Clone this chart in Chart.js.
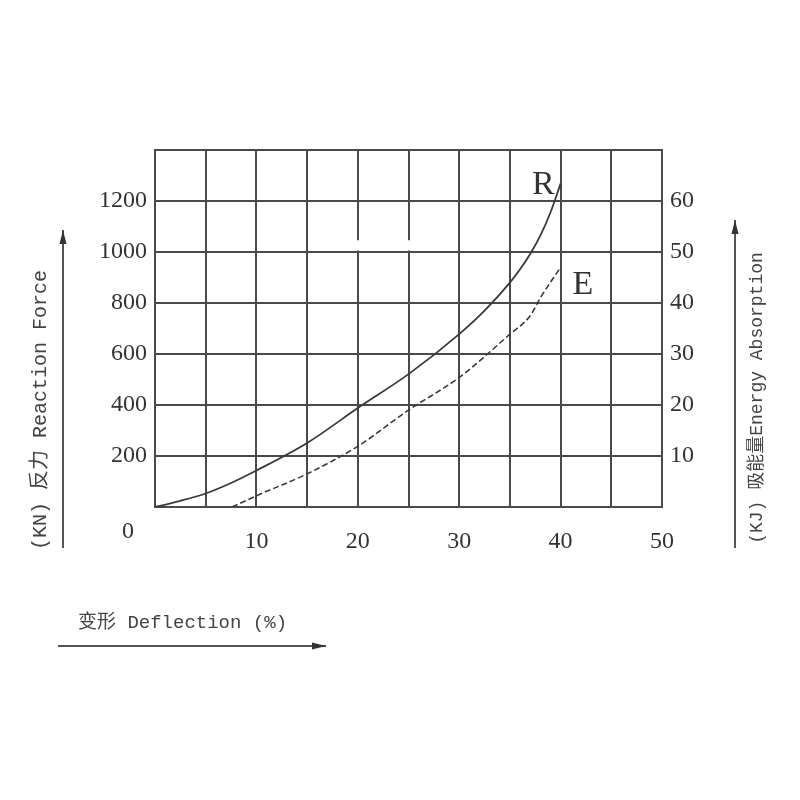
<!DOCTYPE html>
<html>
<head>
<meta charset="utf-8">
<script src="https://cdn.jsdelivr.net/npm/chart.js@4"></script>
<style>
  html, body { margin: 0; padding: 0; background: #fff; }
  #wrap { width: 800px; height: 800px; }
</style>
</head>
<body>
<div id="wrap"><canvas id="deflectionChart" width="800" height="800"></canvas></div>
<script>
// --- data ---
const rDeflection = [0, 2.5, 5, 7.5, 10, 15, 20, 25, 30, 32.5, 35, 36, 37, 38, 39, 40];
const rForce      = [0, 24, 53, 94, 143, 251, 388, 521, 678, 770, 880, 932, 992, 1064, 1155, 1268];   // kN

const eDeflection = [7.6, 10, 15, 20, 25, 30, 35, 37, 38, 40];
const eEnergy     = [0, 2.2, 6.5, 11.9, 19, 25.4, 33.9, 37.5, 41, 47];   // kJ

const forceTicks  = [200, 400, 600, 800, 1000, 1200];
const energyTicks = [10, 20, 30, 40, 50, 60];
const xTicks      = [10, 20, 30, 40, 50];

const titleLeft   = '(KN) 反力 Reaction Force';
const titleRight  = '(KJ) 吸能量Energy Absorption';
const titleBottom = '变形 Deflection (%)';

const LINE = '#4a4a4a';
const TICK_FONT = { family: 'Liberation Serif, DejaVu Serif, serif', size: 24 };
const TITLE_FAMILY = '"Liberation Mono", "Noto Sans CJK SC", monospace';

function toPoints(xs, ys) {
    return xs.map((x, i) => ({ x: x, y: ys[i] }));
}

// labels, arrows, the origin "0" and the small gaps in the grid
const decorPlugin = {
    id: 'decor',
    beforeDatasetsDraw(chart) {
        const { ctx, scales: { x, y } } = chart;
        ctx.save();
        ctx.fillStyle = '#fff';
        [20, 25].forEach(v => {
            const px = x.getPixelForValue(v);
            const top = y.getPixelForValue(1046);
            const bot = y.getPixelForValue(1000) - 1.5;
            ctx.fillRect(px - 2, top, 4, bot - top);
        });
        ctx.restore();
    },
    afterDraw(chart) {
        const { ctx, chartArea, scales: { x, y } } = chart;
        ctx.save();
        ctx.fillStyle = '#333';

        // origin zero
        ctx.font = '24px Liberation Serif, serif';
        ctx.textAlign = 'center';
        ctx.textBaseline = 'middle';
        ctx.fillText('0', chartArea.left - 27, chartArea.bottom + 25);

        // curve names
        ctx.font = '34px Liberation Serif, serif';
        ctx.fillText('R', x.getPixelForValue(38.3), y.getPixelForValue(1262));
        ctx.fillText('E', x.getPixelForValue(42.2), y.getPixelForValue(872));

        // axis titles
        ctx.fillStyle = '#444';
        ctx.font = '20px ' + TITLE_FAMILY;
        ctx.save();
        ctx.translate(41, 410);
        ctx.rotate(-Math.PI / 2);
        ctx.fillText(titleLeft, 0, 0);
        ctx.restore();

        ctx.font = '18px ' + TITLE_FAMILY;
        ctx.save();
        ctx.translate(757, 398);
        ctx.rotate(-Math.PI / 2);
        ctx.fillText(titleRight, 0, 0);
        ctx.restore();

        ctx.font = '19px ' + TITLE_FAMILY;
        ctx.textAlign = 'left';
        ctx.fillText(titleBottom, 78, 623);

        // arrows
        ctx.strokeStyle = '#555';
        ctx.fillStyle = '#333';
        ctx.lineWidth = 2;
        const arrow = (x1, y1, x2, y2) => {
            ctx.beginPath();
            ctx.moveTo(x1, y1);
            ctx.lineTo(x2, y2);
            ctx.stroke();
            const a = Math.atan2(y2 - y1, x2 - x1);
            ctx.beginPath();
            ctx.moveTo(x2, y2);
            ctx.lineTo(x2 - 14 * Math.cos(a) + 3.5 * Math.sin(a), y2 - 14 * Math.sin(a) - 3.5 * Math.cos(a));
            ctx.lineTo(x2 - 14 * Math.cos(a) - 3.5 * Math.sin(a), y2 - 14 * Math.sin(a) + 3.5 * Math.cos(a));
            ctx.closePath();
            ctx.fill();
        };
        arrow(63, 548, 63, 230);
        arrow(735, 548, 735, 220);
        arrow(58, 646, 326, 646);

        ctx.restore();
    }
};

document.addEventListener('DOMContentLoaded', function () {
    const ctx = document.getElementById('deflectionChart');

    new Chart(ctx, {
        type: 'line',
        data: {
            datasets: [
                {
                    label: 'R',
                    data: toPoints(rDeflection, rForce),
                    yAxisID: 'y',
                    borderColor: '#3a3a3a',
                    borderWidth: 1.8,
                    pointRadius: 0,
                    cubicInterpolationMode: 'monotone',
                    fill: false
                },
                {
                    label: 'E',
                    data: toPoints(eDeflection, eEnergy),
                    yAxisID: 'y2',
                    borderColor: '#3a3a3a',
                    borderWidth: 1.6,
                    borderDash: [6, 3],
                    pointRadius: 0,
                    cubicInterpolationMode: 'monotone',
                    fill: false
                }
            ]
        },
        options: {
            responsive: false,
            animation: false,
            devicePixelRatio: 1,
            layout: { padding: { top: 150, left: 0, right: 0, bottom: 0 } },
            plugins: {
                legend: { display: false },
                title: { display: false },
                tooltip: { enabled: false }
            },
            scales: {
                x: {
                    type: 'linear',
                    min: 0,
                    max: 50,
                    afterFit(scale) { scale.height = 293; },
                    afterBuildTicks(scale) {
                        const t = [];
                        for (let v = 0; v <= 50; v += 5) t.push({ value: v });
                        scale.ticks = t;
                    },
                    ticks: {
                        color: '#333',
                        font: TICK_FONT,
                        padding: 20,
                        maxRotation: 0,
                        autoSkip: false,
                        callback: v => xTicks.includes(v) ? String(v) : ''
                    },
                    grid: { color: LINE, lineWidth: 2, drawTicks: false },
                    border: { color: LINE, width: 2 }
                },
                y: {
                    position: 'left',
                    min: 0,
                    max: 1400,
                    afterFit(scale) { scale.width = 155; },
                    afterBuildTicks(scale) {
                        const t = [];
                        for (let v = 0; v <= 1400; v += 200) t.push({ value: v });
                        scale.ticks = t;
                    },
                    ticks: {
                        color: '#333',
                        font: TICK_FONT,
                        padding: 8,
                        callback: v => forceTicks.includes(v) ? String(v) : ''
                    },
                    grid: { color: LINE, lineWidth: 2, drawTicks: false },
                    border: { color: LINE, width: 2 }
                },
                y2: {
                    position: 'right',
                    min: 0,
                    max: 70,
                    afterFit(scale) { scale.width = 138; },
                    afterBuildTicks(scale) {
                        const t = [];
                        for (let v = 0; v <= 70; v += 10) t.push({ value: v });
                        scale.ticks = t;
                    },
                    ticks: {
                        color: '#333',
                        font: TICK_FONT,
                        padding: 8,
                        callback: v => energyTicks.includes(v) ? String(v) : ''
                    },
                    grid: { display: false, drawTicks: false },
                    border: { color: LINE, width: 2 }
                }
            }
        },
        plugins: [decorPlugin]
    });
});
</script>
</body>
</html>
